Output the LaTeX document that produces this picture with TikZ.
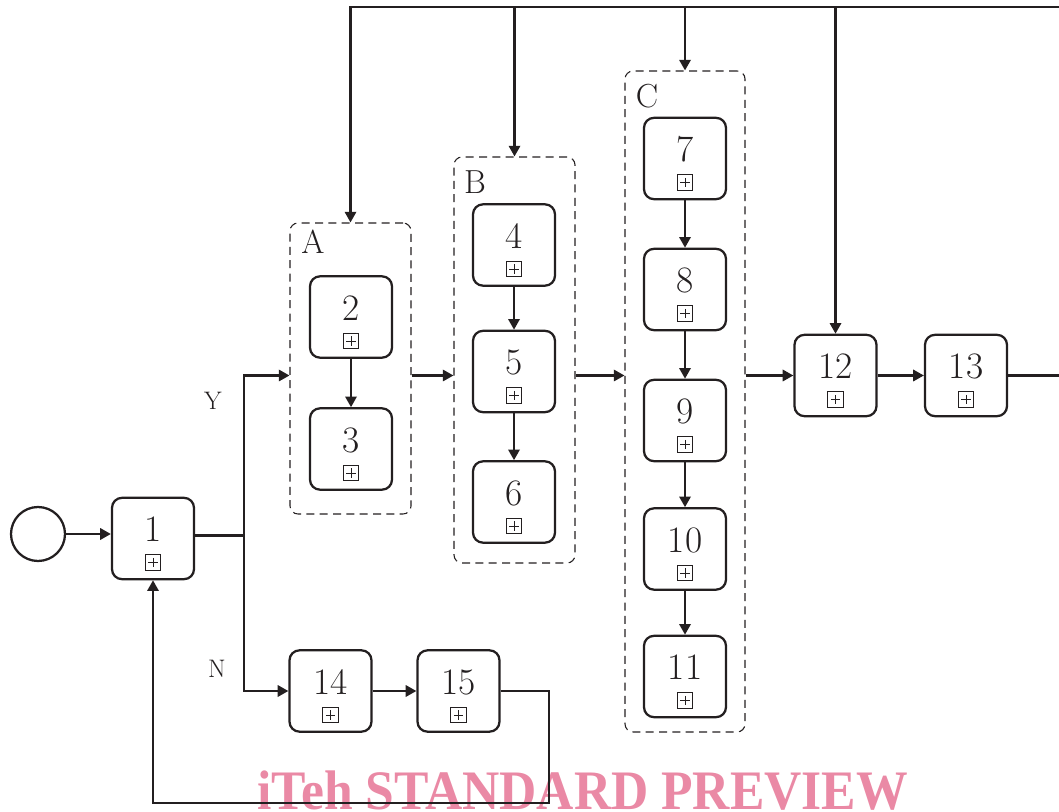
\documentclass[tikz,border=0pt]{standalone}
\usepackage{fontspec}
\newfontfamily\wmfont{Liberation Serif}
\usetikzlibrary{arrows.meta,calc}
\definecolor{ink}{RGB}{35,31,32}
\definecolor{wm}{RGB}{234,137,165}
\newcommand\procbox[4]{%
  \node[proc] (#1) at (#2,#3) {};
  \node[num] (#1t) at (#2,#3-9) {#4};
  \node[plusicon] (#1i) at (#2,#3+24) {};
}
\begin{document}
\begin{tikzpicture}[x=0.75pt,y=-0.75pt,
  proc/.style={draw=ink, line width=1.7pt, rounded corners=7.5pt, minimum width=61.5pt, minimum height=61pt, inner sep=0pt},
  num/.style={font=\fontsize{28}{30}\selectfont, text=ink, inner sep=0pt},
  lbl/.style={font=\fontsize{25}{28}\selectfont, text=ink, inner sep=0pt},
  yn/.style={font=\fontsize{19}{22}\selectfont, text=ink, inner sep=0pt},
  plusicon/.style={draw=ink, line width=0.6pt, minimum size=11.5pt, inner sep=0pt,
    path picture={\draw[line width=0.6pt,ink] ([yshift=-2.2pt]path picture bounding box.north) -- ([yshift=2.2pt]path picture bounding box.south)
      ([xshift=2.2pt]path picture bounding box.west) -- ([xshift=-2.2pt]path picture bounding box.east);}},
  group/.style={draw=ink, dash pattern=on 6pt off 4pt, line width=0.8pt, rounded corners=6pt, inner sep=0pt},
  conn/.style={draw=ink, line width=1.7pt, -{Triangle[length=8pt,width=8.5pt]}},
  wire/.style={draw=ink, line width=1.7pt},
  startev/.style={circle, draw=ink, line width=1.7pt, minimum size=40.5pt, inner sep=0pt}
]
\useasboundingbox (0,0) rectangle (1059,812);
\clip (0,0) rectangle (1059,812);

% watermark
\node[anchor=base west, text=wm, inner sep=0pt, font=\wmfont\bfseries\fontsize{38.7}{40}\selectfont] (wmark) at (257,809) {\scalebox{1}[1.08]{iTeh STANDARD PREVIEW}};

% groups
\node[group, minimum width=90.75pt, minimum height=218.25pt] (grpA) at (350.5,368.5) {};
\node[group, minimum width=90.75pt, minimum height=304.5pt] (grpB) at (514.5,360) {};
\node[group, minimum width=90pt, minimum height=495.75pt] (grpC) at (685,401.5) {};
\node[lbl] (labA) at (313,242) {A};
\node[lbl] (labB) at (475,182) {B};
\node[lbl] (labC) at (647,96) {C};

% start event
\node[startev] (start) at (38,534) {};

% process boxes
\procbox{b1}{153}{538.5}{1}
\procbox{b2}{351}{317}{2}
\procbox{b3}{351}{449}{3}
\procbox{b4}{514}{245}{4}
\procbox{b5}{514}{371.5}{5}
\procbox{b6}{514}{502}{6}
\procbox{b7}{685}{158.5}{7}
\procbox{b8}{685}{289.5}{8}
\procbox{b9}{685}{420.5}{9}
\procbox{b10}{685}{549}{10}
\procbox{b11}{685}{676.5}{11}
\procbox{b12}{835.5}{375.5}{12}
\procbox{b13}{966}{375.5}{13}
\procbox{b14}{330.5}{691}{14}
\procbox{b15}{458.5}{691}{15}

% labels
\node[yn] (labY) at (213,401) {Y};
\node[yn] (labN) at (217,669) {N};

% coordinates
\coordinate (j) at (244,535.5);
\coordinate (top) at (0,7);
\coordinate (topR) at (1059,7);
\coordinate (exitR) at (1059,375.5);
\coordinate (lb) at (549,803);

% connectors
\draw[conn] (start.east) -- (start.east -| b1.west);
\draw[wire] (b1.east |- j) -- (j);
\draw[conn] (j) |- (grpA.west |- b12);
\draw[conn] (j) |- (b14.west);
\draw[conn] (grpA.east |- b12) -- (grpB.west |- b12);
\draw[conn] (grpB.east |- b12) -- (grpC.west |- b12);
\draw[conn] (grpC.east |- b12) -- (b12.west);
\draw[conn] (b12) -- (b13);
\draw[wire] (b13.east) -- (exitR);

\draw[conn] (topR) -- (grpA.north |- top) -- (grpA.north);
\draw[conn] (grpB.north |- top) -- (grpB.north);
\draw[conn] (grpC.north |- top) -- (grpC.north);
\draw[conn] (b12.north |- top) -- (b12.north);

\draw[conn] (b2) -- (b3);
\draw[conn] (b4) -- (b5);
\draw[conn] (b5) -- (b6);
\draw[conn] (b7) -- (b8);
\draw[conn] (b8) -- (b9);
\draw[conn] (b9) -- (b10);
\draw[conn] (b10) -- (b11);
\draw[conn] (b14) -- (b15);
\draw[conn] (b15.east) -| (lb) -| (b1.south);
\end{tikzpicture}
\end{document}
